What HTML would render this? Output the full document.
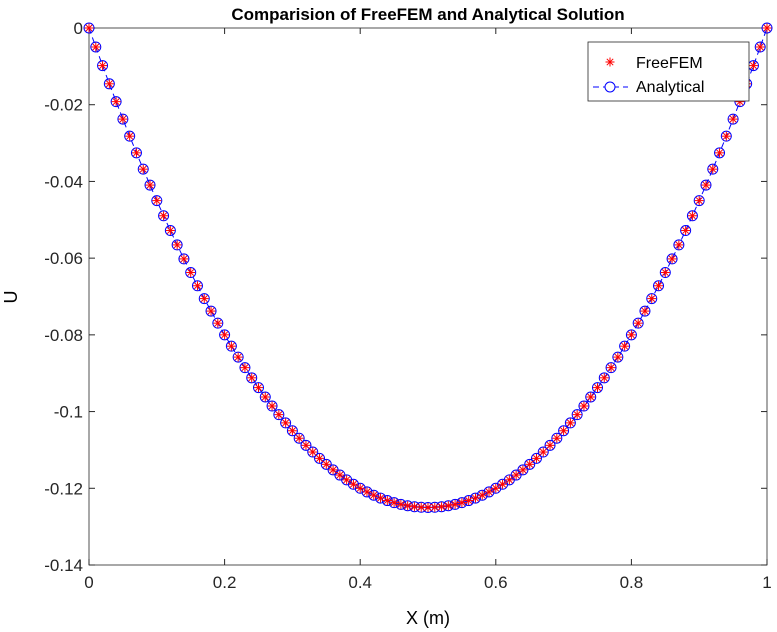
<!DOCTYPE html>
<html><head><meta charset="utf-8">
<style>
body{margin:0;background:#fff;}
svg{display:block;font-family:"Liberation Sans",Arial,sans-serif;}
</style></head>
<body>
<svg id="chart" width="777" height="632" xmlns="http://www.w3.org/2000/svg">
<rect width="777" height="632" fill="#fff"/>
<text x="428" y="20" text-anchor="middle" font-size="17" font-weight="bold">Comparision of FreeFEM and Analytical Solution</text>
<text x="428" y="624" text-anchor="middle" font-size="18">X (m)</text>
<text transform="translate(17,297) rotate(-90)" text-anchor="middle" font-size="18">U</text>
<g id="axes"></g>
<g id="series"></g>
<g>
<rect x="588" y="42" width="161" height="59" fill="#fff" stroke="#262626" stroke-width="0.8"/>
<g>
<g stroke="#f00" stroke-width="1">
<line x1="605.5" y1="62" x2="614.5" y2="62"/>
<line x1="610" y1="57.5" x2="610" y2="66.5"/>
<line x1="606.8" y1="58.8" x2="613.2" y2="65.2"/>
<line x1="606.8" y1="65.2" x2="613.2" y2="58.8"/>
</g>
<text x="636" y="68" font-size="16">FreeFEM</text>
</g>
<g>
<line x1="593" y1="87" x2="628" y2="87" stroke="#00f" stroke-dasharray="6,4"/>
<circle cx="610" cy="87" r="5" fill="#fff" stroke="#00f"/>
<text x="636" y="92" font-size="16">Analytical</text>
</g>
</g>
</svg>
<script>
const xValues=[];for(let i=0;i<=100;i++)xValues.push(i/100);
const freefemU=[0,-0.00495,-0.0098,-0.01455,-0.0192,-0.02375,-0.0282,-0.03255,-0.0368,-0.04095,-0.045,-0.04895,-0.0528,-0.05655,-0.0602,-0.06375,-0.0672,-0.07055,-0.0738,-0.07695,-0.08,-0.08295,-0.0858,-0.08855,-0.0912,-0.09375,-0.0962,-0.09855,-0.1008,-0.10295,-0.105,-0.10695,-0.1088,-0.11055,-0.1122,-0.11375,-0.1152,-0.11655,-0.1178,-0.11895,-0.12,-0.12095,-0.1218,-0.12255,-0.1232,-0.12375,-0.1242,-0.12455,-0.1248,-0.12495,-0.125,-0.12495,-0.1248,-0.12455,-0.1242,-0.12375,-0.1232,-0.12255,-0.1218,-0.12095,-0.12,-0.11895,-0.1178,-0.11655,-0.1152,-0.11375,-0.1122,-0.11055,-0.1088,-0.10695,-0.105,-0.10295,-0.1008,-0.09855,-0.0962,-0.09375,-0.0912,-0.08855,-0.0858,-0.08295,-0.08,-0.07695,-0.0738,-0.07055,-0.0672,-0.06375,-0.0602,-0.05655,-0.0528,-0.04895,-0.045,-0.04095,-0.0368,-0.03255,-0.0282,-0.02375,-0.0192,-0.01455,-0.0098,-0.00495,0];
const analyticalU=[0,-0.00495,-0.0098,-0.01455,-0.0192,-0.02375,-0.0282,-0.03255,-0.0368,-0.04095,-0.045,-0.04895,-0.0528,-0.05655,-0.0602,-0.06375,-0.0672,-0.07055,-0.0738,-0.07695,-0.08,-0.08295,-0.0858,-0.08855,-0.0912,-0.09375,-0.0962,-0.09855,-0.1008,-0.10295,-0.105,-0.10695,-0.1088,-0.11055,-0.1122,-0.11375,-0.1152,-0.11655,-0.1178,-0.11895,-0.12,-0.12095,-0.1218,-0.12255,-0.1232,-0.12375,-0.1242,-0.12455,-0.1248,-0.12495,-0.125,-0.12495,-0.1248,-0.12455,-0.1242,-0.12375,-0.1232,-0.12255,-0.1218,-0.12095,-0.12,-0.11895,-0.1178,-0.11655,-0.1152,-0.11375,-0.1122,-0.11055,-0.1088,-0.10695,-0.105,-0.10295,-0.1008,-0.09855,-0.0962,-0.09375,-0.0912,-0.08855,-0.0858,-0.08295,-0.08,-0.07695,-0.0738,-0.07055,-0.0672,-0.06375,-0.0602,-0.05655,-0.0528,-0.04895,-0.045,-0.04095,-0.0368,-0.03255,-0.0282,-0.02375,-0.0192,-0.01455,-0.0098,-0.00495,0];
const xTicks=[0,0.2,0.4,0.6,0.8,1];
const xTickLabels=["0","0.2","0.4","0.6","0.8","1"];
const yTicks=[0,-0.02,-0.04,-0.06,-0.08,-0.1,-0.12,-0.14];
const yTickLabels=["0","-0.02","-0.04","-0.06","-0.08","-0.1","-0.12","-0.14"];
const NS="http://www.w3.org/2000/svg";
const L=89,R=767,T=28,B=565;
const sx=v=>L+(v-0)/(1-0)*(R-L);
const sy=v=>T+(0-v)/(0.14)*(B-T);
function mk(tag,attrs,parent){const e=document.createElementNS(NS,tag);for(const k in attrs)e.setAttribute(k,attrs[k]);parent.appendChild(e);return e;}
const axes=document.getElementById('axes');
const frame=mk('rect',{x:L,y:T,width:R-L,height:B-T,fill:'none',stroke:'#262626','stroke-width':0.8},axes);


xTicks.forEach((v,i)=>{
  const x=sx(v);
  mk('line',{x1:x,y1:B,x2:x,y2:B-6,stroke:'#262626'},axes);
  mk('line',{x1:x,y1:T,x2:x,y2:T+6,stroke:'#262626'},axes);
  const t=mk('text',{x:x,y:B+23,'text-anchor':'middle','font-size':17,fill:'#262626'},axes);
  t.textContent=xTickLabels[i];
  
  
});
yTicks.forEach((v,i)=>{
  const y=sy(v);
  mk('line',{x1:L,y1:y,x2:L+6,y2:y,stroke:'#262626'},axes);
  mk('line',{x1:R,y1:y,x2:R-6,y2:y,stroke:'#262626'},axes);
  const t=mk('text',{x:L-6,y:y+6,'text-anchor':'end','font-size':17,fill:'#262626'},axes);
  t.textContent=yTickLabels[i];
  
  
});
const series=document.getElementById('series');
const pts=xValues.map((x,i)=>sx(x)+','+sy(analyticalU[i])).join(' ');
const line=mk('polyline',{points:pts,fill:'none',stroke:'#00f','stroke-dasharray':'6,4','stroke-width':1},series);


xValues.forEach((x,i)=>{
  const c=mk('circle',{cx:sx(x),cy:sy(analyticalU[i]),r:5,fill:'none',stroke:'#00f','stroke-width':1},series);
  
  
});
xValues.forEach((x,i)=>{
  const cx=sx(x),cy=sy(freefemU[i]),s=4.5;
  const g=mk('g',{stroke:'#f00','stroke-width':1},series);
  
  
  mk('line',{x1:cx-s,y1:cy,x2:cx+s,y2:cy},g);
  mk('line',{x1:cx,y1:cy-s,x2:cx,y2:cy+s},g);
  mk('line',{x1:cx-s*0.7,y1:cy-s*0.7,x2:cx+s*0.7,y2:cy+s*0.7},g);
  mk('line',{x1:cx-s*0.7,y1:cy+s*0.7,x2:cx+s*0.7,y2:cy-s*0.7},g);
});
</script>
</body></html>
